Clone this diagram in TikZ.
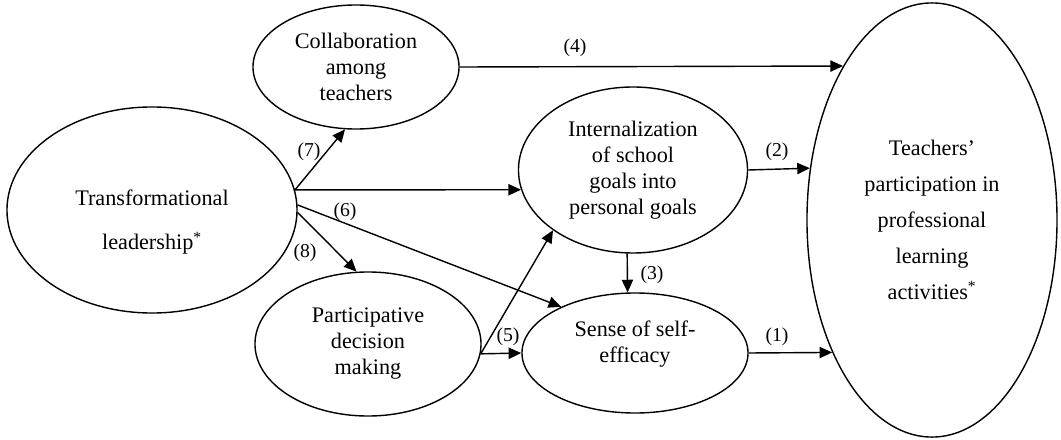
\documentclass[tikz,border=0pt]{standalone}
\usepackage{fontspec}
\setmainfont{Liberation Serif}
\usetikzlibrary{arrows.meta}
\usetikzlibrary{shapes.geometric}

\begin{document}
\begin{tikzpicture}[x=0.025cm,y=-0.025cm,line width=1pt,>={Triangle[length=9pt,width=8pt]},
    construct/.style={draw,ellipse,inner sep=0pt,align=center,font=\fontsize{15.8}{18.5}\selectfont},
    coef/.style={font=\fontsize{14}{16}\selectfont,inner sep=1pt}]
    \useasboundingbox (0,0) rectangle (1061,440);

    \node[construct,minimum width=7.25cm,minimum height=5.15cm] (leadership) at (152,210) {\mbox{}\\[9.5pt]Transformational\\[13pt]leadership\textsuperscript{*}};
    \node[construct,minimum width=5.15cm,minimum height=3.1cm] (collab) at (356,67) {Collaboration\\among\\teachers};
    \node[construct,minimum width=5.725cm,minimum height=4.15cm] (internal) at (633,170) {Internalization\\of school\\goals into\\personal goals};
    \node[construct,minimum width=5.65cm,minimum height=3.6cm] (decision) at (368,344) {Participative\\decision\\making};
    \node[construct,minimum width=5.65cm,minimum height=3cm] (efficacy) at (635,353) {Sense of self-\\efficacy\\[-3pt]\mbox{}};
    \node[construct,minimum width=6.25cm,minimum height=10.85cm] (participation) at (932,220) {Teachers’\\[7pt]participation in\\[7pt]professional\\[7pt]learning\\[7pt]activities\textsuperscript{*}};

    \node[coef] (c1) at (777,337) {(1)};
    \node[coef] (c2) at (777,152) {(2)};
    \node[coef] (c3) at (652,275) {(3)};
    \node[coef] (c4) at (575,48) {(4)};
    \node[coef] (c5) at (508,337) {(5)};
    \node[coef] (c6) at (345,212) {(6)};
    \node[coef] (c7) at (309,152) {(7)};
    \node[coef] (c8) at (305,253) {(8)};

    \draw[->] (leadership.8) -- (collab.260);
    \draw[->] (leadership.8) -- (internal.190);
    \draw[->] (leadership.2) -- (efficacy.148);
    \draw[->] (leadership.-1) -- (decision.99);
    \draw[->] (collab.east) -- (participation.120);
    \draw[->] (internal.east) -- (participation.157);
    \draw[->] (internal.266) -- (efficacy.97);
    \draw[->] (decision.-5) -- (internal.217);
    \draw[->] (decision.-5) -- (efficacy.west);
    \draw[->] (efficacy.east) -- (participation.233);
\end{tikzpicture}
\end{document}
